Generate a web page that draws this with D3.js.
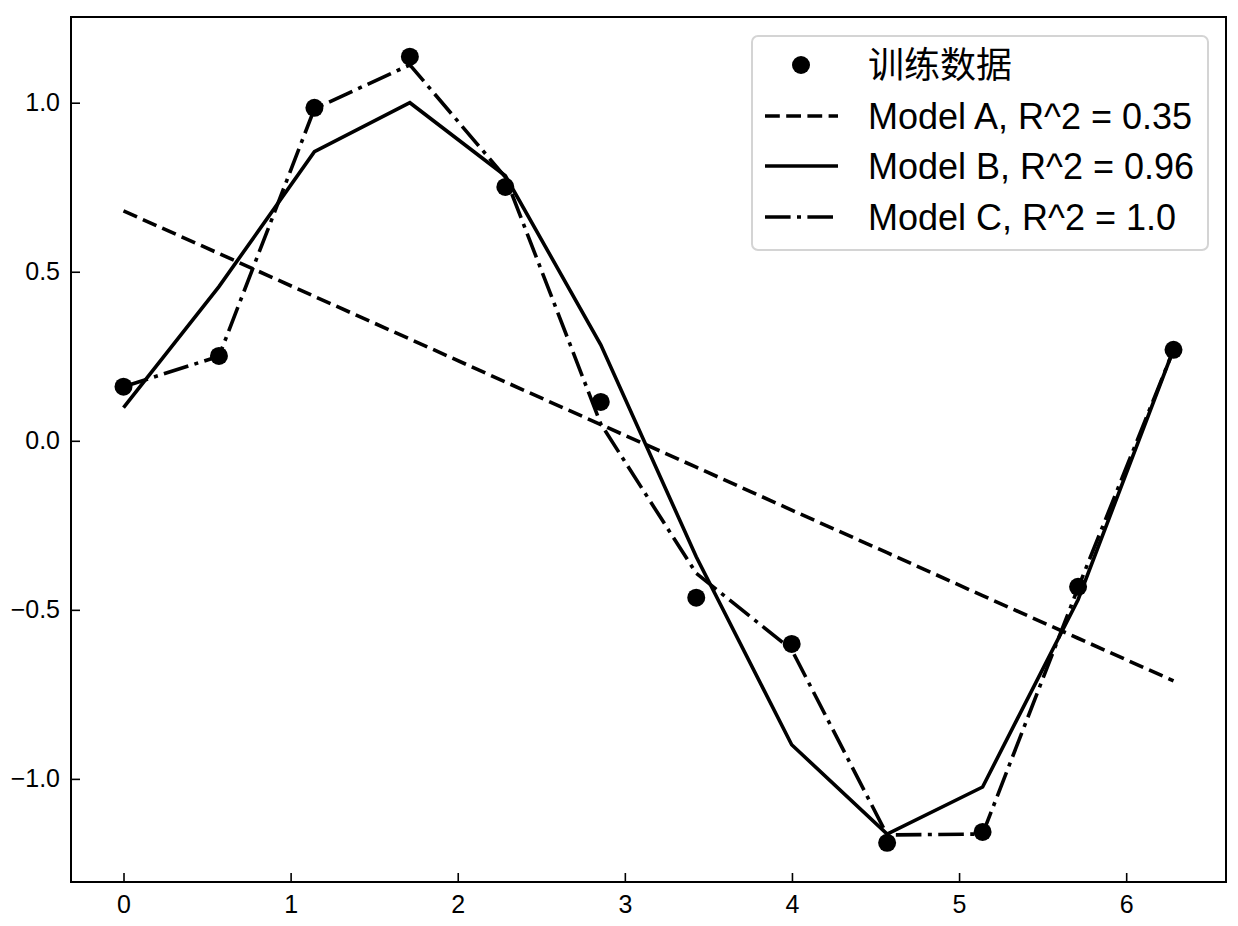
<!DOCTYPE html>
<html><head><meta charset="utf-8">
<script src="https://cdn.jsdelivr.net/npm/d3@7"></script>
<style>body{margin:0;background:#fff}svg{display:block}text{font-family:"Liberation Sans",Arial,"Noto Sans CJK SC",sans-serif}</style>
</head><body><svg id="c" width="1238" height="926"></svg>
<script>
const xValues = [0.0, 0.5712, 1.1424, 1.7136, 2.2848, 2.8560, 3.4272, 3.9984, 4.5696, 5.1408, 5.7120, 6.2832];
const trainY = [0.160, 0.251, 0.985, 1.136, 0.751, 0.115, -0.464, -0.601, -1.189, -1.157, -0.432, 0.269];
const modelA = [0.680, 0.554, 0.427, 0.301, 0.174, 0.048, -0.078, -0.205, -0.331, -0.458, -0.584, -0.710];
const modelB = [0.098, 0.456, 0.855, 1.000, 0.784, 0.284, -0.343, -0.899, -1.163, -1.024, -0.470, 0.270];
const modelC = [0.160, 0.250, 0.982, 1.112, 0.780, 0.050, -0.392, -0.618, -1.166, -1.163, -0.435, 0.269];
const xTicks = [0, 1, 2, 3, 4, 5, 6];
const yTicks = [-1.0, -0.5, 0.0, 0.5, 1.0];
const legendLabels = ["训练数据", "Model A, R^2 = 0.35", "Model B, R^2 = 0.96", "Model C, R^2 = 1.0"];

const svg = d3.select("#c");
const L = 71, R = 1226, T = 17, B = 882;
const x = d3.scaleLinear().domain([-0.3142, 6.5973]).range([L, R]);
const y = d3.scaleLinear().domain([-1.305, 1.2535]).range([B, T]);

const lw = 3.6;
const series = [
  {vals: modelA, dash: "14.8,6.4"},
  {vals: modelB, dash: null},
  {vals: modelC, dash: "25.6,6.4,4,6.4"}
];
const line = d3.line().x((d, i) => x(xValues[i])).y(d => y(d));
const plot = svg.append("g");
series.forEach(s => {
  plot.append("path").attr("d", line(s.vals)).attr("fill", "none").attr("stroke", "#000")
    .attr("stroke-width", lw).attr("stroke-dasharray", s.dash);
});
plot.selectAll("circle.pt").data(trainY).join("circle").attr("class", "pt")
  .attr("cx", (d, i) => x(xValues[i])).attr("cy", d => y(d)).attr("r", 9).attr("fill", "#000");

// axes
const xAxis = d3.axisBottom(x).tickValues(xTicks).tickFormat(d3.format("d")).tickSizeInner(-9).tickSizeOuter(0).tickPadding(13);
const yAxis = d3.axisLeft(y).tickValues(yTicks).tickFormat(d3.format(".1f")).tickSizeInner(-9).tickSizeOuter(0).tickPadding(11);
const gx = svg.append("g").attr("transform", `translate(0,${B})`).call(xAxis);
const gy = svg.append("g").attr("transform", `translate(${L},0)`).call(yAxis);
[gx, gy].forEach(g => {
  g.attr("font-size", 25).attr("font-family", "Liberation Sans, Arial, sans-serif");
  g.select(".domain").remove();
  g.selectAll(".tick line").attr("stroke", "#000").attr("stroke-width", 1.6);
  g.selectAll(".tick text").attr("fill", "#000").attr("font-size", 25).style("font-size", "25px");
});
svg.append("rect").attr("x", L).attr("y", T).attr("width", R - L).attr("height", B - T)
  .attr("fill", "none").attr("stroke", "#000").attr("stroke-width", 2);

// legend
const lg = svg.append("g");
lg.append("rect").attr("x", 752).attr("y", 36).attr("width", 456).attr("height", 214).attr("rx", 6)
  .attr("fill", "#fff").attr("fill-opacity", 0.8).attr("stroke", "#d4d4d4").attr("stroke-width", 2);
const rows = [65, 116, 166, 217];
lg.append("circle").attr("cx", 801).attr("cy", rows[0]).attr("r", 9).attr("fill", "#000");
series.forEach((s, i) => {
  lg.append("line").attr("x1", 765).attr("x2", 838).attr("y1", rows[i + 1]).attr("y2", rows[i + 1])
    .attr("stroke", "#000").attr("stroke-width", lw).attr("stroke-dasharray", s.dash);
});
legendLabels.forEach((t, i) => {
  lg.append("text").attr("x", 868).attr("y", rows[i]).attr("dy", "0.35em").style("font-size", "36px")
    .attr("fill", "#000").text(t);
});
</script></body></html>
